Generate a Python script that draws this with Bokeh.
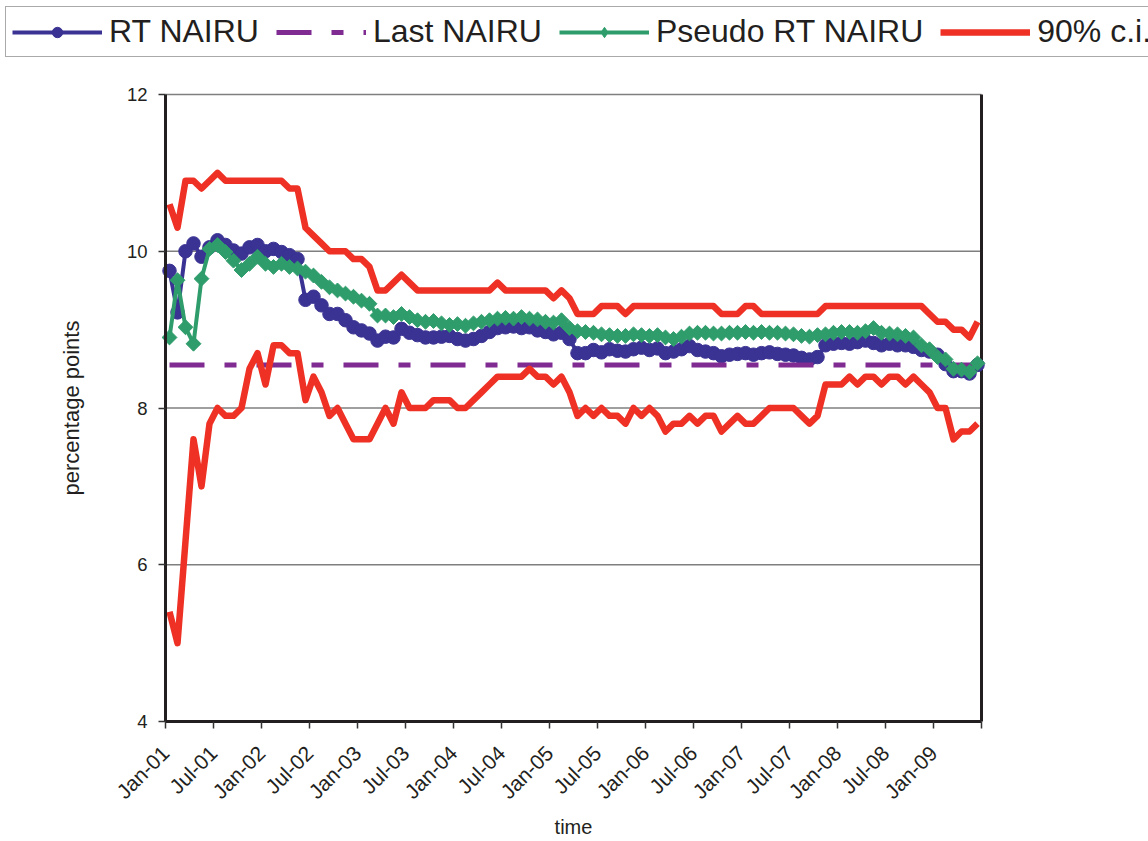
from bokeh.plotting import figure
from bokeh.models import FixedTicker, Legend, LegendItem, ColumnDataSource
from bokeh.embed import file_html
from bokeh.resources import INLINE

# ---- data (monthly, Jan-01 .. Jun-09) ----
tick_labels = ["Jan-01", "Jul-01", "Jan-02", "Jul-02", "Jan-03", "Jul-03", "Jan-04", "Jul-04",
               "Jan-05", "Jul-05", "Jan-06", "Jul-06", "Jan-07", "Jul-07", "Jan-08", "Jul-08",
               "Jan-09", ""]
y_ticks = [4, 6, 8, 10, 12]

rt_nairu = [9.75, 9.22, 10.0, 10.1, 9.93, 10.05, 10.14, 10.08, 10.01, 9.97,
            10.05, 10.08, 10.0, 10.03, 9.99, 9.95, 9.9, 9.38, 9.42, 9.31,
            9.2, 9.2, 9.12, 9.03, 8.99, 8.95, 8.86, 8.91, 8.9, 9.01,
            8.96, 8.93, 8.9, 8.9, 8.91, 8.92, 8.88, 8.86, 8.88, 8.92,
            8.97, 9.02, 9.03, 9.04, 9.02, 9.03, 8.99, 8.97, 8.94, 8.96,
            8.88, 8.7, 8.7, 8.74, 8.71, 8.75, 8.73, 8.72, 8.75, 8.77,
            8.74, 8.76, 8.7, 8.72, 8.75, 8.79, 8.74, 8.72, 8.7, 8.66,
            8.68, 8.69, 8.7, 8.68, 8.7, 8.71, 8.69, 8.68, 8.67, 8.64,
            8.62, 8.65, 8.8, 8.82, 8.83, 8.82, 8.84, 8.86, 8.83, 8.8,
            8.82, 8.8, 8.8, 8.78, 8.74, 8.72, 8.68, 8.56, 8.47, 8.47,
            8.44, 8.55]

last_nairu_level = 8.55

pseudo_rt_nairu = [8.9, 9.63, 9.03, 8.82, 9.65, 10.03, 10.08, 9.99, 9.88, 9.76,
                   9.84, 9.93, 9.84, 9.8, 9.84, 9.8, 9.78, 9.74, 9.69, 9.61,
                   9.54, 9.5, 9.46, 9.42, 9.37, 9.33, 9.18, 9.18, 9.16, 9.2,
                   9.16, 9.12, 9.1, 9.11, 9.08, 9.06, 9.07, 9.05, 9.08, 9.1,
                   9.12, 9.14, 9.15, 9.14, 9.16, 9.14, 9.13, 9.1, 9.09, 9.12,
                   9.02, 8.98, 8.97, 8.96, 8.94, 8.93, 8.92, 8.92, 8.94, 8.93,
                   8.92, 8.93, 8.9, 8.88, 8.91, 8.95, 8.96, 8.96, 8.95, 8.95,
                   8.96, 8.96, 8.97, 8.96, 8.97, 8.96, 8.96, 8.95, 8.94, 8.92,
                   8.91, 8.93, 8.94, 8.96, 8.97, 8.97, 8.96, 8.98, 9.02, 8.96,
                   8.95, 8.94, 8.92, 8.9, 8.8, 8.75, 8.65, 8.62, 8.5, 8.49,
                   8.46, 8.57]

ci_upper = [10.6, 10.3, 10.9, 10.9, 10.8, 10.9, 11.0, 10.9, 10.9, 10.9,
            10.9, 10.9, 10.9, 10.9, 10.9, 10.8, 10.8, 10.3, 10.2, 10.1,
            10.0, 10.0, 10.0, 9.9, 9.9, 9.8, 9.5, 9.5, 9.6, 9.7,
            9.6, 9.5, 9.5, 9.5, 9.5, 9.5, 9.5, 9.5, 9.5, 9.5,
            9.5, 9.6, 9.5, 9.5, 9.5, 9.5, 9.5, 9.5, 9.4, 9.5,
            9.4, 9.2, 9.2, 9.2, 9.3, 9.3, 9.3, 9.2, 9.3, 9.3,
            9.3, 9.3, 9.3, 9.3, 9.3, 9.3, 9.3, 9.3, 9.3, 9.2,
            9.2, 9.2, 9.3, 9.3, 9.2, 9.2, 9.2, 9.2, 9.2, 9.2,
            9.2, 9.2, 9.3, 9.3, 9.3, 9.3, 9.3, 9.3, 9.3, 9.3,
            9.3, 9.3, 9.3, 9.3, 9.3, 9.2, 9.1, 9.1, 9.0, 9.0,
            8.9, 9.1]

ci_lower = [5.4, 5.0, 6.3, 7.6, 7.0, 7.8, 8.0, 7.9, 7.9, 8.0,
            8.5, 8.7, 8.3, 8.8, 8.8, 8.7, 8.7, 8.1, 8.4, 8.2,
            7.9, 8.0, 7.8, 7.6, 7.6, 7.6, 7.8, 8.0, 7.8, 8.2,
            8.0, 8.0, 8.0, 8.1, 8.1, 8.1, 8.0, 8.0, 8.1, 8.2,
            8.3, 8.4, 8.4, 8.4, 8.4, 8.5, 8.4, 8.4, 8.3, 8.4,
            8.2, 7.9, 8.0, 7.9, 8.0, 7.9, 7.9, 7.8, 8.0, 7.9,
            8.0, 7.9, 7.7, 7.8, 7.8, 7.9, 7.8, 7.9, 7.9, 7.7,
            7.8, 7.9, 7.8, 7.8, 7.9, 8.0, 8.0, 8.0, 8.0, 7.9,
            7.8, 7.9, 8.3, 8.3, 8.3, 8.4, 8.3, 8.4, 8.4, 8.3,
            8.4, 8.4, 8.3, 8.4, 8.3, 8.2, 8.0, 8.0, 7.6, 7.7,
            7.7, 7.8]

series_names = ["RT NAIRU", "Last NAIRU", "Pseudo RT NAIRU", "90% c.i."]

n = len(rt_nairu)
months = [i + 0.5 for i in range(n)]          # points sit between monthly ticks
last_nairu = [last_nairu_level] * n
x_end = 102                                   # axis runs Jan-01 .. Jul-09

src = ColumnDataSource(dict(x=months, rt=rt_nairu, last=last_nairu,
                            pseudo=pseudo_rt_nairu, hi=ci_upper, lo=ci_lower))

BLUE = "#3a3393"
PURPLE = "#7f2b91"
GREEN = "#2f9d6b"
RED = "#ee3124"
INK = "#231f20"
FONT = "Liberation Sans"
DASH = "35 20 12 20"

# ---- layout (pixels) : the frame fills the canvas, axes sit at fixed locations ----
W, H = 1148, 838
PLOT_L, PLOT_R, PLOT_T, PLOT_B = 165, 981, 94, 721
ppx = (PLOT_R - PLOT_L) / x_end
ppy = (PLOT_B - PLOT_T) / (y_ticks[-1] - y_ticks[0])
xr = (-PLOT_L / ppx, (W - PLOT_L) / ppx)
yr = (y_ticks[0] - (H - PLOT_B) / ppy, y_ticks[0] + PLOT_B / ppy)

p = figure(width=W, height=H, x_range=xr, y_range=yr,
           output_backend="svg", toolbar_location=None,
           min_border_left=0, min_border_right=0, min_border_top=0, min_border_bottom=0)
p.outline_line_color = None
p.background_fill_color = "white"
p.border_fill_color = "white"
p.xgrid.grid_line_color = None
p.ygrid.grid_line_color = None

xax, yax = p.xaxis[0], p.yaxis[0]
xax.fixed_location = y_ticks[0]
yax.fixed_location = 0
xax.bounds = (0, x_end)
yax.bounds = (y_ticks[0], y_ticks[-1])
xax.ticker = FixedTicker(ticks=list(range(0, x_end + 1, 6)))
xax.major_label_overrides = {t: lab for t, lab in zip(range(0, x_end + 1, 6), tick_labels)}
xax.major_label_orientation = 0.785398
yax.ticker = FixedTicker(ticks=y_ticks)
for ax in (xax, yax):
    ax.axis_line_color = INK
    ax.axis_line_width = 3
    ax.major_tick_line_color = "#333333"
    ax.major_tick_line_width = 1.5
    ax.major_tick_out = 7
    ax.major_tick_in = 0
    ax.minor_tick_line_color = None
    ax.major_label_text_font = FONT
    ax.major_label_text_color = INK
    ax.axis_label_text_font = FONT
    ax.axis_label_text_font_style = "normal"
    ax.axis_label_text_color = INK
xax.major_label_text_font_size = "21px"
yax.major_label_text_font_size = "18.5px"
xax.axis_label_text_font_size = "20px"
yax.axis_label_text_font_size = "22px"
xax.axis_label = "time"
yax.axis_label = "percentage points"
yax.major_label_standoff = 11
xax.major_label_standoff = 21
yax.axis_label_standoff = 40
xax.axis_label_standoff = 2

# horizontal gridlines (plot area only) and right border of the plot area
grid_y = y_ticks[1:]
p.segment(x0=[0] * len(grid_y), x1=[x_end] * len(grid_y), y0=grid_y, y1=grid_y,
          line_color="#7f7f7f", line_width=1.5)
p.segment(x0=[x_end], x1=[x_end], y0=[y_ticks[0]], y1=[y_ticks[-1]],
          line_color=INK, line_width=3)

# series
r_rt_line = p.line("x", "rt", source=src, line_color=BLUE, line_width=4)
r_rt_mark = p.scatter("x", "rt", source=src, marker="circle", size=13.5,
                      fill_color=BLUE, line_color=BLUE)
r_last = p.line("x", "last", source=src, line_color=PURPLE, line_width=5, line_dash=DASH)
r_ps_line = p.line("x", "pseudo", source=src, line_color=GREEN, line_width=4)
r_ps_mark = p.scatter("x", "pseudo", source=src, marker="square", size=10.5, angle=0.785398,
                      fill_color=GREEN, line_color=GREEN)
r_ps_key = p.scatter("x", "pseudo", source=src, marker="diamond", size=17,
                     fill_color=GREEN, line_color=GREEN, visible=False)   # legend key only
r_hi = p.line("x", "hi", source=src, line_color=RED, line_width=6.5, line_join="round")
r_lo = p.line("x", "lo", source=src, line_color=RED, line_width=6.5, line_join="round")

legend = Legend(items=[LegendItem(label=nm, renderers=rs) for nm, rs in zip(
    series_names, [[r_rt_line, r_rt_mark], [r_last], [r_ps_line, r_ps_key], [r_hi]])],
    orientation="horizontal", location=(5, H - 57))
legend.label_text_font = FONT
legend.label_text_font_size = "32px"
legend.label_text_color = INK
legend.glyph_width = 90
legend.glyph_height = 26
legend.label_standoff = 7
legend.spacing = 17
legend.padding = 6
legend.margin = 0
legend.border_line_color = "#555555"
legend.border_line_width = 1.5
legend.background_fill_color = "white"
legend.background_fill_alpha = 1
p.add_layout(legend, "center")

open("out.html", "w").write(file_html(p, INLINE))
